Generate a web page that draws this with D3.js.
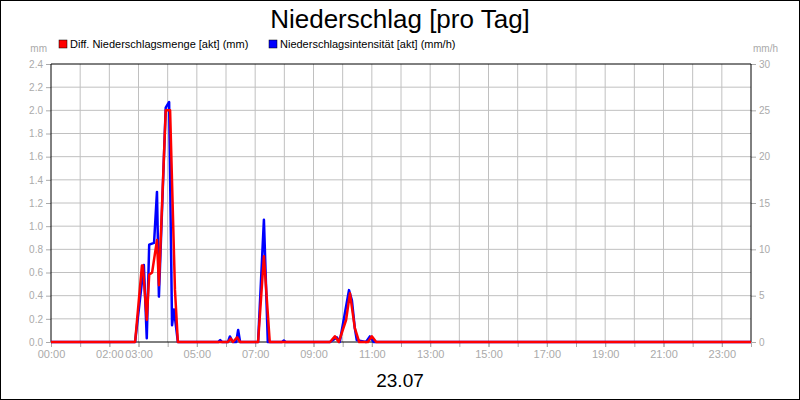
<!DOCTYPE html><html><head><meta charset="utf-8"><script src="https://cdn.jsdelivr.net/npm/d3@7"></script>
<style>body{margin:0;background:#fff}svg{font-family:"Liberation Sans",Arial,sans-serif}</style></head><body><svg id="c" width="800" height="400"></svg>
<script>
const redTimes=["00:00","02:53","03:07","03:09","03:17","03:22","03:28","03:38","03:42","03:56","04:05","04:15","04:21","06:04","06:10","06:14","06:23","06:29","07:06","07:18","07:30","09:34","09:44","09:52","10:07","10:15","10:25","10:34","10:52","11:00","11:09","24:00"];
const redVals=[0,0,0.66,0.66,0.19,0.58,0.6,0.88,0.49,2.0,2.0,0.45,0,0,0.03,0,0.04,0,0,0.74,0,0,0.05,0,0.19,0.42,0.12,0,0,0.05,0,0];
const blueTimes=["00:00","02:53","03:11","03:17","03:22","03:32","03:38","03:42","03:56","04:03","04:09","04:13","04:21","05:44","05:48","05:52","06:04","06:08","06:14","06:21","06:25","06:29","07:06","07:18","07:26","07:55","07:59","08:03","09:34","09:48","09:54","10:13","10:19","10:25","10:29","10:48","10:56","11:04","24:00"];
const blueVals=[0,0,8.3,0.4,10.5,10.7,16.2,4.9,25.3,25.9,1.8,3.5,0,0,0.2,0,0,0.6,0,0,1.3,0,0,13.2,0,0,0.15,0,0,0.5,0,5.6,4.5,1.5,0.2,0,0.6,0,0];
const xTickLabels=["00:00","02:00","03:00","05:00","07:00","09:00","11:00","13:00","15:00","17:00","19:00","21:00","23:00"];
const leftTicks=[0,0.2,0.4,0.6,0.8,1.0,1.2,1.4,1.6,1.8,2.0,2.2,2.4];
const rightTicks=[0,5,10,15,20,25,30];
const h=s=>{const[a,b]=s.split(":").map(Number);return a+b/60;};
const svg=d3.select("#c");
const L=51,R=751,T=64,B=342;
svg.append("rect").attr("x",0.5).attr("y",0.5).attr("width",799).attr("height",399).attr("fill","#fff").attr("stroke","#000");
const x=d3.scaleLinear().domain([0,24]).range([L,R]);
const yl=d3.scaleLinear().domain([0,2.4]).range([B,T]);
const yr=d3.scaleLinear().domain([0,30]).range([B,T]);
const g=svg.append("g");
d3.range(1,24).forEach(i=>g.append("line").attr("x1",x(i)).attr("x2",x(i)).attr("y1",T).attr("y2",B).attr("stroke","#c0c0c0"));
leftTicks.slice(1,-1).forEach(v=>g.append("line").attr("x1",L).attr("x2",R).attr("y1",yl(v)).attr("y2",yl(v)).attr("stroke","#c0c0c0"));
const gray="#aaa";
svg.append("g").attr("transform",`translate(${L},0)`).call(d3.axisLeft(yl).tickValues(leftTicks).tickFormat(d3.format(".1f")).tickSize(5)).call(a=>{a.select(".domain").remove();a.selectAll("line").attr("stroke",gray);a.selectAll("text").attr("fill",gray).style("font-size","10px");});
svg.append("g").attr("transform",`translate(${R},0)`).call(d3.axisRight(yr).tickValues(rightTicks).tickSize(5)).call(a=>{a.select(".domain").remove();a.selectAll("line").attr("stroke",gray);a.selectAll("text").attr("fill",gray).style("font-size","10px");});
svg.append("g").attr("transform",`translate(0,${B})`).call(d3.axisBottom(x).tickValues(xTickLabels.map(h)).tickFormat((d,i)=>xTickLabels[i]).tickSize(5)).call(a=>{a.select(".domain").remove();a.selectAll("line").attr("stroke",gray);a.selectAll("text").attr("fill",gray).style("font-size","11px");});
svg.append("g").attr("transform",`translate(0,${B})`).call(d3.axisBottom(x).tickValues(d3.range(0,25)).tickFormat("").tickSize(5)).call(a=>{a.select(".domain").remove();a.selectAll("line").attr("stroke",gray);});
svg.append("line").attr("x1",L).attr("x2",L).attr("y1",T).attr("y2",B).attr("stroke","#000");
svg.append("line").attr("x1",R).attr("x2",R).attr("y1",T).attr("y2",B).attr("stroke","#000");
svg.append("line").attr("x1",L).attr("x2",R).attr("y1",T).attr("y2",T).attr("stroke","#000");
svg.append("line").attr("x1",L).attr("x2",R).attr("y1",B).attr("y2",B).attr("stroke","#000");
const line=(ys)=>d3.line().x(d=>x(h(d[0]))).y(d=>ys(d[1]));
svg.append("path").datum(blueTimes.map((t,i)=>[t,blueVals[i]])).attr("d",line(yr)).attr("fill","none").attr("stroke","#0000ff").attr("stroke-width",2.5).attr("stroke-linejoin","round");
svg.append("path").datum(redTimes.map((t,i)=>[t,redVals[i]])).attr("d",line(yl)).attr("fill","none").attr("stroke","#ff0000").attr("stroke-width",2.5).attr("stroke-linejoin","round");
svg.append("text").attr("x",400).attr("y",28).attr("text-anchor","middle").style("font-size","26px").text("Niederschlag [pro Tag]");
svg.append("text").attr("x",400).attr("y",387).attr("text-anchor","middle").style("font-size","19px").text("23.07");
svg.append("text").attr("x",47).attr("y",52).attr("text-anchor","end").attr("fill",gray).style("font-size","10px").text("mm");
svg.append("text").attr("x",753).attr("y",52).attr("fill",gray).style("font-size","10px").text("mm/h");
[["#ff0000","Diff. Niederschlagsmenge [akt] (mm)",59],["#0000ff","Niederschlagsintensität [akt] (mm/h)",269]].forEach(([c,t,px])=>{
svg.append("rect").attr("x",px).attr("y",40).attr("width",8).attr("height",8).attr("fill",c).attr("stroke","#000").attr("stroke-width",0.5);
svg.append("text").attr("x",px+11).attr("y",48).style("font-size","11px").text(t);});
</script></body></html>
